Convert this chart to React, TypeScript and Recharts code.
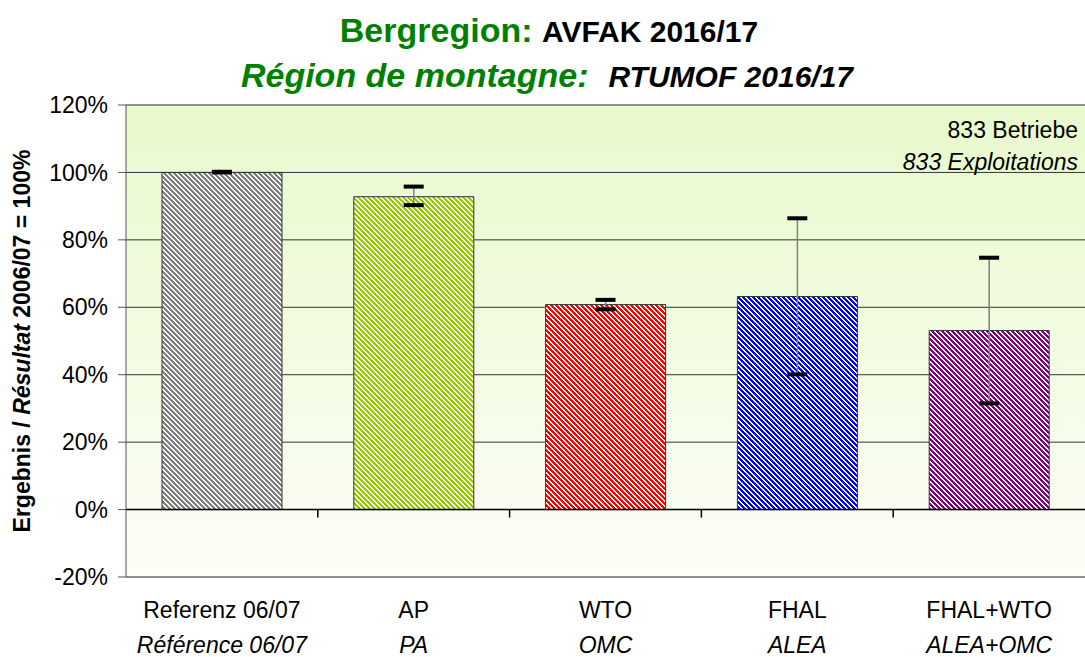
import {
  Bar,
  CartesianGrid,
  Cell,
  ComposedChart,
  ErrorBar,
  ReferenceLine,
  Scatter,
  XAxis,
  YAxis,
} from 'recharts'

const FONT = '"Liberation Sans", Arial, sans-serif'

const categories = ['Referenz 06/07', 'AP', 'WTO', 'FHAL', 'FHAL+WTO']
const categoriesFr = ['Référence 06/07', 'PA', 'OMC', 'ALEA', 'ALEA+OMC']
const values = [100, 92.8, 60.8, 63.2, 53.1]
const lowValues = [100, 90.3, 59.4, 40.1, 31.5]
const highValues = [100.2, 95.8, 62.2, 86.4, 74.7]
const barColors = ['#808080', '#99cc00', '#ff0000', '#0000ff', '#800080']
const yTicks = [-20, 0, 20, 40, 60, 80, 100, 120]

const data = categories.map((name, i) => ({
  name,
  value: values[i],
  low: lowValues[i],
  high: highValues[i],
  err: [values[i] - lowValues[i], highValues[i] - values[i]],
}))

// pixel stripes: 3 coloured of every 5, stepping one px per row
const STRIPE = 5
const stripeRows = [0, 1, 2, 3, 4]
const stripeCols = [0, 1, 2]

function CategoryTick({ x, y, index }: any) {
  return (
    <g fontFamily={FONT} fontSize={23} fill="#000">
      <text x={x} y={y + 41} textAnchor="middle">
        {categories[index]}
      </text>
      <text x={x} y={y + 76} textAnchor="middle" fontStyle="italic">
        {categoriesFr[index]}
      </text>
    </g>
  )
}

function ZeroAxis({ x1, y1, x2 }: any) {
  const band = (x2 - x1) / categories.length
  return (
    <g>
      <line x1={x1} y1={y1} x2={x2} y2={y1} stroke="#000" strokeWidth={1.5} />
      {categories.slice(1).map((c, i) => (
        <line
          key={c}
          x1={x1 + band * (i + 1)}
          x2={x1 + band * (i + 1)}
          y1={y1}
          y2={y1 + 8}
          stroke="#000"
          strokeWidth={1.5}
        />
      ))}
    </g>
  )
}

function Cap({ cx, cy }: any) {
  return <rect x={cx - 10} y={cy - 2} width={20} height={4} fill="#000" />
}

export default function App() {
  return (
    <div style={{ position: 'absolute', left: 0, top: 0, width: 1085, height: 657, background: '#fff' }}>
      <svg width={0} height={0} style={{ position: 'absolute' }}>
        <defs>
          <linearGradient id="plotBg" x1="0" y1="0" x2="0" y2="1">
            <stop offset="0%" stopColor="#e8f9cc" />
            <stop offset="100%" stopColor="#fcfef7" />
          </linearGradient>
          {barColors.map((c, i) => (
            <pattern key={c} id={`hatch${i}`} patternUnits="userSpaceOnUse" width={STRIPE} height={STRIPE}>
              <rect width={STRIPE} height={STRIPE} fill="#fff" />
              <g fill={c} shapeRendering="crispEdges">
                {stripeRows.map((r) =>
                  stripeCols.map((k) => (
                    <rect key={`${r}-${k}`} x={(r + k) % STRIPE} y={r} width={1} height={1} />
                  )),
                )}
              </g>
            </pattern>
          ))}
        </defs>
      </svg>

      <ComposedChart
        width={1085}
        height={657}
        data={data}
        margin={{ top: 105, right: 0, bottom: 0, left: 0 }}
      >
        <CartesianGrid vertical={false} stroke="#333" fill="url(#plotBg)" fillOpacity={1} />
        <XAxis
          dataKey="name"
          axisLine={false}
          tickLine={false}
          tickSize={0}
          tickMargin={0}
          height={80}
          interval={0}
          tick={<CategoryTick />}
        />
        <YAxis
          width={126}
          domain={[-20, 120]}
          ticks={yTicks}
          interval={0}
          allowDataOverflow
          tickFormatter={(v) => `${v}%`}
          tick={{ fontSize: 23, fill: '#000', fontFamily: FONT }}
          tickSize={8}
          tickMargin={10}
          axisLine={{ stroke: '#555' }}
          tickLine={{ stroke: '#555' }}
        />
        <ReferenceLine y={120} stroke="#888" />
        <ReferenceLine y={-20} stroke="#888" />
        <Bar dataKey="value" barSize={120} stroke="#333" strokeWidth={1} isAnimationActive={false}>
          {data.map((d, i) => (
            <Cell key={d.name} fill={`url(#hatch${i})`} />
          ))}
          <ErrorBar dataKey="err" width={0} stroke="#808080" strokeWidth={1.5} direction="y" />
        </Bar>
        <ReferenceLine y={0} shape={<ZeroAxis />} />
        <Scatter dataKey="high" shape={<Cap />} legendType="none" isAnimationActive={false} />
        <Scatter dataKey="low" shape={<Cap />} legendType="none" isAnimationActive={false} />
      </ComposedChart>

      <svg
        width={1085}
        height={657}
        style={{ position: 'absolute', left: 0, top: 0, pointerEvents: 'none' }}
        fontFamily={FONT}
      >
        <text x={549} y={42} textAnchor="middle" fontWeight="bold">
          <tspan fill="#008000" fontSize={34}>Bergregion: </tspan>
          <tspan fill="#000" fontSize={30}>AVFAK 2016/17</tspan>
        </text>
        <text x={547} y={87} textAnchor="middle" fontWeight="bold" fontStyle="italic">
          <tspan fill="#008000" fontSize={34}>Région de montagne:</tspan>
          <tspan fill="#000" fontSize={30} dx={20}>RTUMOF 2016/17</tspan>
        </text>
        <text x={1078} y={138} textAnchor="end" fontSize={23} fill="#000">
          833 Betriebe
        </text>
        <text x={1078} y={170} textAnchor="end" fontSize={23} fontStyle="italic" fill="#000">
          833 Exploitations
        </text>
        <text
          x={22}
          y={341}
          transform="rotate(-90, 22, 341)"
          textAnchor="middle"
          dominantBaseline="central"
          fontSize={23}
          fontWeight="bold"
          fill="#000"
        >
          Ergebnis / <tspan fontStyle="italic">Résultat</tspan> 2006/07 = 100%
        </text>
      </svg>
    </div>
  )
}
